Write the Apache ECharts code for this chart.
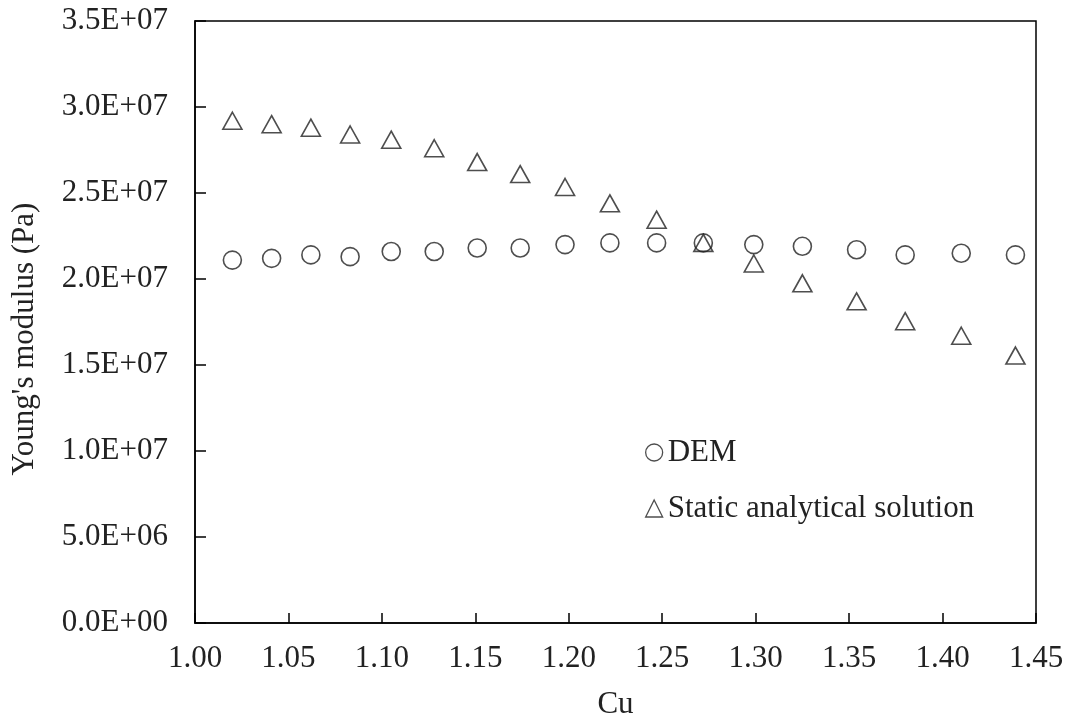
<!DOCTYPE html>
<html>
<head>
<meta charset="utf-8">
<script src="https://cdn.jsdelivr.net/npm/echarts@6/dist/echarts.min.js"></script>
<style>
  html, body { margin: 0; padding: 0; background: #fff; }
  #chart { width: 1071px; height: 725px; }
</style>
</head>
<body>
<div id="chart"></div>
<script>
// Cu values (shared x for both series)
const cu = [1.020, 1.041, 1.062, 1.083, 1.105, 1.128, 1.151, 1.174, 1.198,
            1.222, 1.247, 1.272, 1.299, 1.325, 1.354, 1.380, 1.410, 1.439];
// Young's modulus (Pa)
const demE = [2.11e7, 2.12e7, 2.14e7, 2.13e7, 2.16e7, 2.16e7, 2.18e7, 2.18e7, 2.20e7,
              2.21e7, 2.21e7, 2.21e7, 2.20e7, 2.19e7, 2.17e7, 2.14e7, 2.15e7, 2.14e7];
const staticE = [2.92e7, 2.90e7, 2.88e7, 2.84e7, 2.81e7, 2.76e7, 2.68e7, 2.61e7, 2.535e7,
                 2.44e7, 2.345e7, 2.21e7, 2.09e7, 1.975e7, 1.87e7, 1.755e7, 1.67e7, 1.555e7];
const seriesNames = ['DEM', 'Static analytical solution'];

const FONT = '"Liberation Serif", "Times New Roman", serif';
const INK = '#222';

function sci(v) {
  if (v === 0) return '0.0E+00';
  const e = Math.floor(Math.log10(v) + 1e-9);
  const m = v / Math.pow(10, e);
  return m.toFixed(1) + 'E+' + String(e).padStart(2, '0');
}

const pairs = ys => cu.map((x, i) => [x, ys[i]]);

const chart = echarts.init(document.getElementById('chart'));
chart.setOption({
  animation: false,
  backgroundColor: '#fff',
  grid: {
    left: 195, right: 35, top: 21, bottom: 98,
    show: true, borderColor: '#000', borderWidth: 1.5
  },
  legend: {
    orient: 'vertical',
    left: 640,
    top: 432,
    itemGap: 25,
    itemWidth: 17,
    itemHeight: 17,
    textStyle: { fontFamily: FONT, fontSize: 31, color: INK },
    data: [
      { name: seriesNames[0], icon: 'circle',
        itemStyle: { color: '#fff', borderColor: INK, borderWidth: 1.3 } },
      { name: seriesNames[1], icon: 'triangle',
        itemStyle: { color: '#fff', borderColor: INK, borderWidth: 1.3 } }
    ]
  },
  xAxis: {
    type: 'value',
    min: 1.0, max: 1.45, interval: 0.05,
    name: 'Cu',
    nameLocation: 'middle',
    nameGap: 66,
    nameTextStyle: { fontFamily: FONT, fontSize: 31, color: INK },
    axisLine: { lineStyle: { color: '#000', width: 1.5 } },
    axisTick: { inside: true, length: 10, lineStyle: { color: '#000', width: 1.5 } },
    axisLabel: { fontFamily: FONT, fontSize: 31, color: INK, margin: 20,
                 formatter: v => v.toFixed(2) },
    splitLine: { show: false }
  },
  yAxis: {
    type: 'value',
    min: 0, max: 3.5e7, interval: 5e6,
    name: "Young's modulus (Pa)",
    nameLocation: 'middle',
    nameGap: 155,
    nameTextStyle: { fontFamily: FONT, fontSize: 31, color: INK, padding: [0, 34, 0, 0] },
    axisLine: { lineStyle: { color: '#000', width: 1.5 } },
    axisTick: { inside: true, length: 11, lineStyle: { color: '#000', width: 1.5 } },
    axisLabel: { fontFamily: FONT, fontSize: 31, color: INK, margin: 27, formatter: sci },
    splitLine: { show: false }
  },
  series: [
    {
      name: seriesNames[0],
      type: 'scatter',
      symbol: 'circle',
      symbolSize: 18,
      itemStyle: { color: '#fff', borderColor: INK, borderWidth: 1.6 },
      data: pairs(demE)
    },
    {
      name: seriesNames[1],
      type: 'scatter',
      symbol: 'triangle',
      symbolSize: [19, 17],
      itemStyle: { color: 'rgba(255,255,255,0)', borderColor: INK, borderWidth: 1.6 },
      data: pairs(staticE)
    }
  ]
});
</script>
</body>
</html>
